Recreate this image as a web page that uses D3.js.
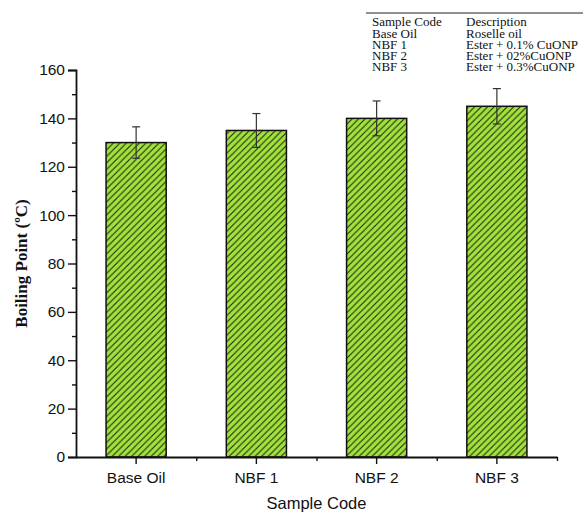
<!DOCTYPE html>
<html>
<head>
<meta charset="utf-8">
<script src="https://cdn.jsdelivr.net/npm/d3@7"></script>
<style>
  body { margin: 0; background: #fff; }
  svg { display: block; }
</style>
</head>
<body>
<div id="viz"></div>
<script>
const samples = ['Base Oil', 'NBF 1', 'NBF 2', 'NBF 3'];
const boilingPoint = [130, 135, 140, 145];
const errors = [6.5, 7, 7.2, 7.3];
const yTicks = [0, 20, 40, 60, 80, 100, 120, 140, 160];
const tableHeader = ['Sample Code', 'Description'];
const tableRows = [
  ['Base Oil', 'Roselle oil'],
  ['NBF 1', 'Ester + 0.1% CuONP'],
  ['NBF 2', 'Ester + 02%CuONP'],
  ['NBF 3', 'Ester + 0.3%CuONP']
];

const W = 585, H = 513;
const margin = { top: 70, right: 28, bottom: 56, left: 76 };
const width = W - margin.left - margin.right;
const height = H - margin.top - margin.bottom;

const svgRoot = d3.select('#viz').append('svg')
  .attr('width', W).attr('height', H);

// diagonal hatch fill
const defs = svgRoot.append('defs');
const pat = defs.append('pattern')
  .attr('id', 'hatch')
  .attr('patternUnits', 'userSpaceOnUse')
  .attr('width', 6.5).attr('height', 6.5);
pat.append('rect').attr('width', 6.5).attr('height', 6.5).attr('fill', '#a2e23c');
pat.append('path')
  .attr('d', 'M-1,1 l2,-2 M0,6.5 l6.5,-6.5 M5.5,7.5 l2,-2')
  .attr('stroke', '#1c2410').attr('stroke-width', 1.05);

const svg = svgRoot.append('g')
  .attr('transform', `translate(${margin.left},${margin.top})`);

const x = d3.scaleBand().domain(samples).range([0, width]).padding(0);
const y = d3.scaleLinear().domain([0, 160]).range([height, 0]);
const barW = x.bandwidth() * 0.5;
const cx = d => x(d) + x.bandwidth() / 2;

// bars
svg.selectAll('rect.bar')
  .data(samples)
  .join('rect')
  .attr('class', 'bar')
  .attr('x', d => cx(d) - barW / 2)
  .attr('y', (d, i) => y(boilingPoint[i]))
  .attr('width', barW)
  .attr('height', (d, i) => y(0) - y(boilingPoint[i]))
  .attr('fill', 'url(#hatch)')
  .attr('stroke', '#111')
  .attr('stroke-width', 1.5);

// error bars
const eb = svg.selectAll('g.err')
  .data(samples)
  .join('g')
  .attr('class', 'err')
  .attr('stroke', '#333')
  .attr('stroke-width', 1.2);
eb.append('line')
  .attr('x1', cx).attr('x2', cx)
  .attr('y1', (d, i) => y(boilingPoint[i] + errors[i]))
  .attr('y2', (d, i) => y(boilingPoint[i] - errors[i]));
[1, -1].forEach(s => {
  eb.append('line')
    .attr('x1', d => cx(d) - 4)
    .attr('x2', d => cx(d) + 4)
    .attr('y1', (d, i) => y(boilingPoint[i] + s * errors[i]))
    .attr('y2', (d, i) => y(boilingPoint[i] + s * errors[i]));
});

// y axis
svg.append('g')
  .call(d3.axisLeft(y).tickValues(yTicks).tickSize(8).tickPadding(3));
const yMinor = svg.append('g')
  .call(d3.axisLeft(y).tickValues(d3.range(10, 160, 20)).tickSize(4).tickFormat(''));
yMinor.select('.domain').remove();

// x axis
svg.append('g')
  .attr('transform', `translate(0,${height})`)
  .call(d3.axisBottom(x).tickSize(7).tickSizeOuter(0).tickPadding(8));
const xMinor = svg.append('g')
  .attr('transform', `translate(0,${height})`)
  .call(d3.axisBottom(d3.scaleLinear().domain([0, 4]).range([0, width]))
    .tickValues([1, 2, 3, 4]).tickSize(4).tickFormat(''));
xMinor.select('.domain').remove();

svg.selectAll('.domain').attr('stroke', '#111').attr('stroke-width', 1.8);
svg.selectAll('.tick line').attr('stroke', '#111').attr('stroke-width', 1.4);
svg.selectAll('.tick text')
  .attr('fill', '#111')
  .style('font-family', 'Arial, "Liberation Sans", sans-serif')
  .style('font-size', '15.5px');

// axis titles
svg.append('text')
  .attr('x', width / 2)
  .attr('y', height + 52)
  .attr('text-anchor', 'middle')
  .style('font-family', 'Arial, "Liberation Sans", sans-serif')
  .style('font-size', '16.5px')
  .attr('fill', '#111')
  .text('Sample Code');

svg.append('text')
  .attr('transform', `translate(${-margin.left + 27},${height / 2}) rotate(-90)`)
  .attr('text-anchor', 'middle')
  .style('font-family', '"Liberation Serif", "Times New Roman", serif')
  .style('font-weight', 'bold')
  .style('font-size', '17px')
  .attr('fill', '#111')
  .text('Boiling Point (ºC)');

// description table
const tbl = svgRoot.append('g')
  .attr('transform', 'translate(366,0)')
  .style('font-family', '"Liberation Serif", "Times New Roman", serif')
  .style('font-size', '13px')
  .attr('fill', '#111');
const col2 = 100, rowH = 11.3;
tbl.append('line').attr('x1', 0).attr('x2', 217).attr('y1', 13).attr('y2', 13)
  .attr('stroke', '#222').attr('stroke-width', 1);
tbl.append('text').attr('x', 6).attr('y', 26).text(tableHeader[0]);
tbl.append('text').attr('x', col2).attr('y', 26).text(tableHeader[1]);
tableRows.forEach((r, i) => {
  tbl.append('text').attr('x', 6).attr('y', 37.5 + i * rowH).text(r[0]);
  tbl.append('text').attr('x', col2).attr('y', 37.5 + i * rowH).text(r[1]);
});
</script>
</body>
</html>
